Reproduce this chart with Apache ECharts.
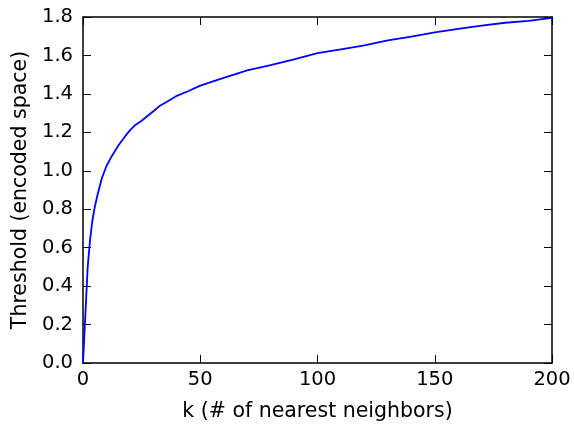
<!DOCTYPE html>
<html>
<head>
<meta charset="utf-8">
<script src="https://cdn.jsdelivr.net/npm/echarts@6/dist/echarts.min.js"></script>
<style>
  html, body { margin: 0; padding: 0; background: #fff; }
  #chart { width: 574px; height: 427px; }
</style>
</head>
<body>
<div id="chart"></div>
<script>
// k values and threshold
const kValues = [0, 1, 2, 3, 4, 5, 6, 8, 10, 12, 15, 18, 20, 22, 25, 28, 30, 33, 36, 40, 45, 50,
  60, 70, 80, 90, 100, 110, 120, 130, 140, 150, 160, 170, 180, 190, 200]
const thresholds = [0, 0.25, 0.5, 0.64, 0.74, 0.81, 0.865, 0.96, 1.025, 1.07, 1.13, 1.18, 1.21, 1.235, 1.26, 1.29, 1.31, 1.34, 1.36, 1.39, 1.415, 1.443,
  1.483, 1.522, 1.55, 1.58, 1.612, 1.632, 1.652, 1.678, 1.698, 1.72, 1.738, 1.755, 1.77, 1.78, 1.795]
const xTicks = [0, 50, 100, 150, 200]
const yTicks = [0.0, 0.2, 0.4, 0.6, 0.8, 1.0, 1.2, 1.4, 1.6, 1.8]

const font = 'DejaVu Sans'
const tickSize = 19.5
const nameSize = 20.5
const frameLine = { show: true, onZero: false, lineStyle: { color: '#000', width: 1.5 } }
const ticks = { show: true, inside: true, length: 8, lineStyle: { color: '#000', width: 1 } }

const chart = echarts.init(document.getElementById('chart'))
chart.setOption({
  animation: false,
  grid: { left: 83, right: 22, top: 17, bottom: 59, containLabel: false },
  xAxis: [{
    type: 'value',
    min: xTicks[0],
    max: xTicks[xTicks.length - 1],
    interval: 50,
    name: 'k (# of nearest neighbors)',
    nameLocation: 'middle',
    nameGap: 38,
    nameTextStyle: { color: '#000', fontFamily: font, fontSize: nameSize },
    axisLine: frameLine,
    axisTick: ticks,
    splitLine: { show: false },
    axisLabel: { color: '#000', fontFamily: font, fontSize: tickSize, margin: 7 }
  }, {
    type: 'value',
    position: 'top',
    min: xTicks[0],
    max: xTicks[xTicks.length - 1],
    interval: 50,
    axisLine: frameLine,
    axisTick: ticks,
    splitLine: { show: false },
    axisLabel: { show: false }
  }],
  yAxis: [{
    type: 'value',
    min: yTicks[0],
    max: yTicks[yTicks.length - 1],
    interval: 0.2,
    name: 'Threshold (encoded space)',
    nameLocation: 'middle',
    nameGap: 52,
    nameTextStyle: { color: '#000', fontFamily: font, fontSize: nameSize },
    axisLine: frameLine,
    axisTick: ticks,
    splitLine: { show: false },
    axisLabel: {
      color: '#000', fontFamily: font, fontSize: tickSize, margin: 10,
      formatter: v => v.toFixed(1)
    }
  }, {
    type: 'value',
    position: 'right',
    min: yTicks[0],
    max: yTicks[yTicks.length - 1],
    interval: 0.2,
    axisLine: frameLine,
    axisTick: ticks,
    splitLine: { show: false },
    axisLabel: { show: false }
  }],
  series: [{
    type: 'line',
    data: kValues.map((k, i) => [k, thresholds[i]]),
    showSymbol: false,
    symbol: 'none',
    smooth: false,
    lineStyle: { color: '#0000ff', width: 1.8 }
  }]
})
</script>
</body>
</html>
